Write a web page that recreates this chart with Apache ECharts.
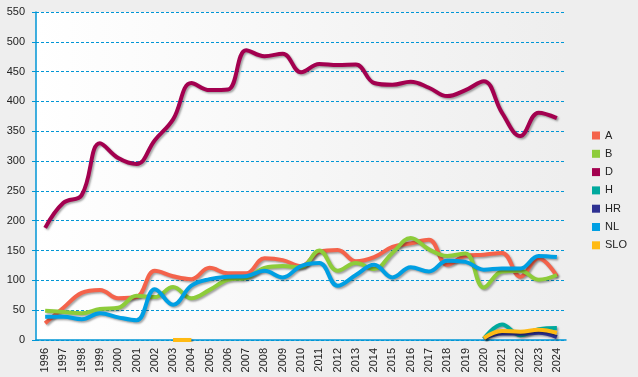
<!DOCTYPE html>
<html>
<head>
<meta charset="utf-8">
<script src="https://cdn.jsdelivr.net/npm/echarts@6/dist/echarts.min.js"></script>
<style>html,body{margin:0;padding:0;background:#eeeeee;}#c{width:638px;height:377px;}</style>
</head>
<body>
<div id="c"></div>
<script>
var years = ['1996','1997','1998','1999','2000','2001','2002','2003','2004','2005','2006','2007','2008','2009','2010','2011','2012','2013','2014','2015','2016','2017','2018','2019','2020','2021','2022','2023','2024'];
var yTicks = [0,50,100,150,200,250,300,350,400,450,500,550];
var A  = [28,54,79,84,70,72,116,107,102,121,112,112,137,134,124,148,151,132,139,156,162,168,126,141,143,146,106,137,107];
var B  = [49,47,45,52,54,74,72,89,70,84,101,104,121,124,122,150,116,129,119,146,171,152,141,145,88,115,116,101,109];
var D  = [188,230,243,330,305,295,335,370,431,419,420,486,476,480,449,463,461,462,431,428,433,423,409,419,434,381,342,381,372];
var H  = [null,null,null,null,null,null,null,null,null,null,null,null,null,null,null,null,null,null,null,null,null,null,null,null,2,26,8,18,20];
var HR = [null,null,null,null,null,null,null,null,null,null,null,null,null,null,null,null,null,null,null,null,null,null,null,null,3,11,11,12,5];
var NL = [39,39,35,45,38,33,85,59,91,102,106,107,116,105,124,129,91,109,126,105,122,115,133,131,118,120,120,141,139];
var SLO= [null,null,null,null,null,null,null,0,0,null,null,null,null,null,null,null,null,null,null,null,null,null,null,null,3,15,14,17,12];

var names = ['A','B','D','H','HR','NL','SLO'];
var colors = ['#f4634b','#8dcc3a','#a3004f','#00a99d','#2e3192','#009fe3','#ffba13'];
var data = [A,B,D,H,HR,NL,SLO];

var font = "'Liberation Sans', Arial, sans-serif";
var chart = echarts.init(document.getElementById('c'));
chart.setOption({
  backgroundColor: '#eeeeee',
  animation: false,
  color: colors,
  grid: {
    left: 36, right: 72, top: 12, bottom: 37,
    show: true, borderWidth: 0,
    backgroundColor: new echarts.graphic.LinearGradient(0,0,1,0,[{offset:0,color:'#ffffff'},{offset:1,color:'#eeeeee'}])
  },
  legend: {
    orient: 'vertical', left: 587, top: 125,
    itemWidth: 8, itemHeight: 8, itemGap: 7.3,
    icon: 'rect',
    textStyle: {fontFamily: font, fontSize: 11, color: '#222'},
    data: names
  },
  xAxis: {
    type: 'category', data: years, boundaryGap: true,
    axisLine: {lineStyle: {color: '#0096d6', width: 1.5}},
    axisTick: {alignWithLabel: true, length: 4, lineStyle: {color: '#0096d6'}},
    axisLabel: {rotate: 90, fontFamily: font, fontSize: 11, color: '#222', margin: 8, interval: 0},
    splitLine: {show: false}
  },
  yAxis: {
    type: 'value', min: 0, max: 550, interval: 50,
    axisLine: {show: true, lineStyle: {color: '#0096d6', width: 1.5}},
    axisTick: {show: true, length: 4, lineStyle: {color: '#0096d6'}},
    axisLabel: {fontFamily: font, fontSize: 11, color: '#222', margin: 11},
    splitLine: {lineStyle: {color: '#0096d6', type: [3,2], width: 1}}
  },
  series: names.map(function(n,i){
    return {
      name: n, type: 'line', data: data[i], smooth: 0.4,
      showSymbol: false, symbol: 'none', connectNulls: false,
      lineStyle: {width: 4, color: colors[i], shadowColor: 'rgba(0,0,0,0.35)', shadowBlur: 2, shadowOffsetX: 1.5, shadowOffsetY: 1.5},
      itemStyle: {color: colors[i]}
    };
  })
});
</script>
</body>
</html>
